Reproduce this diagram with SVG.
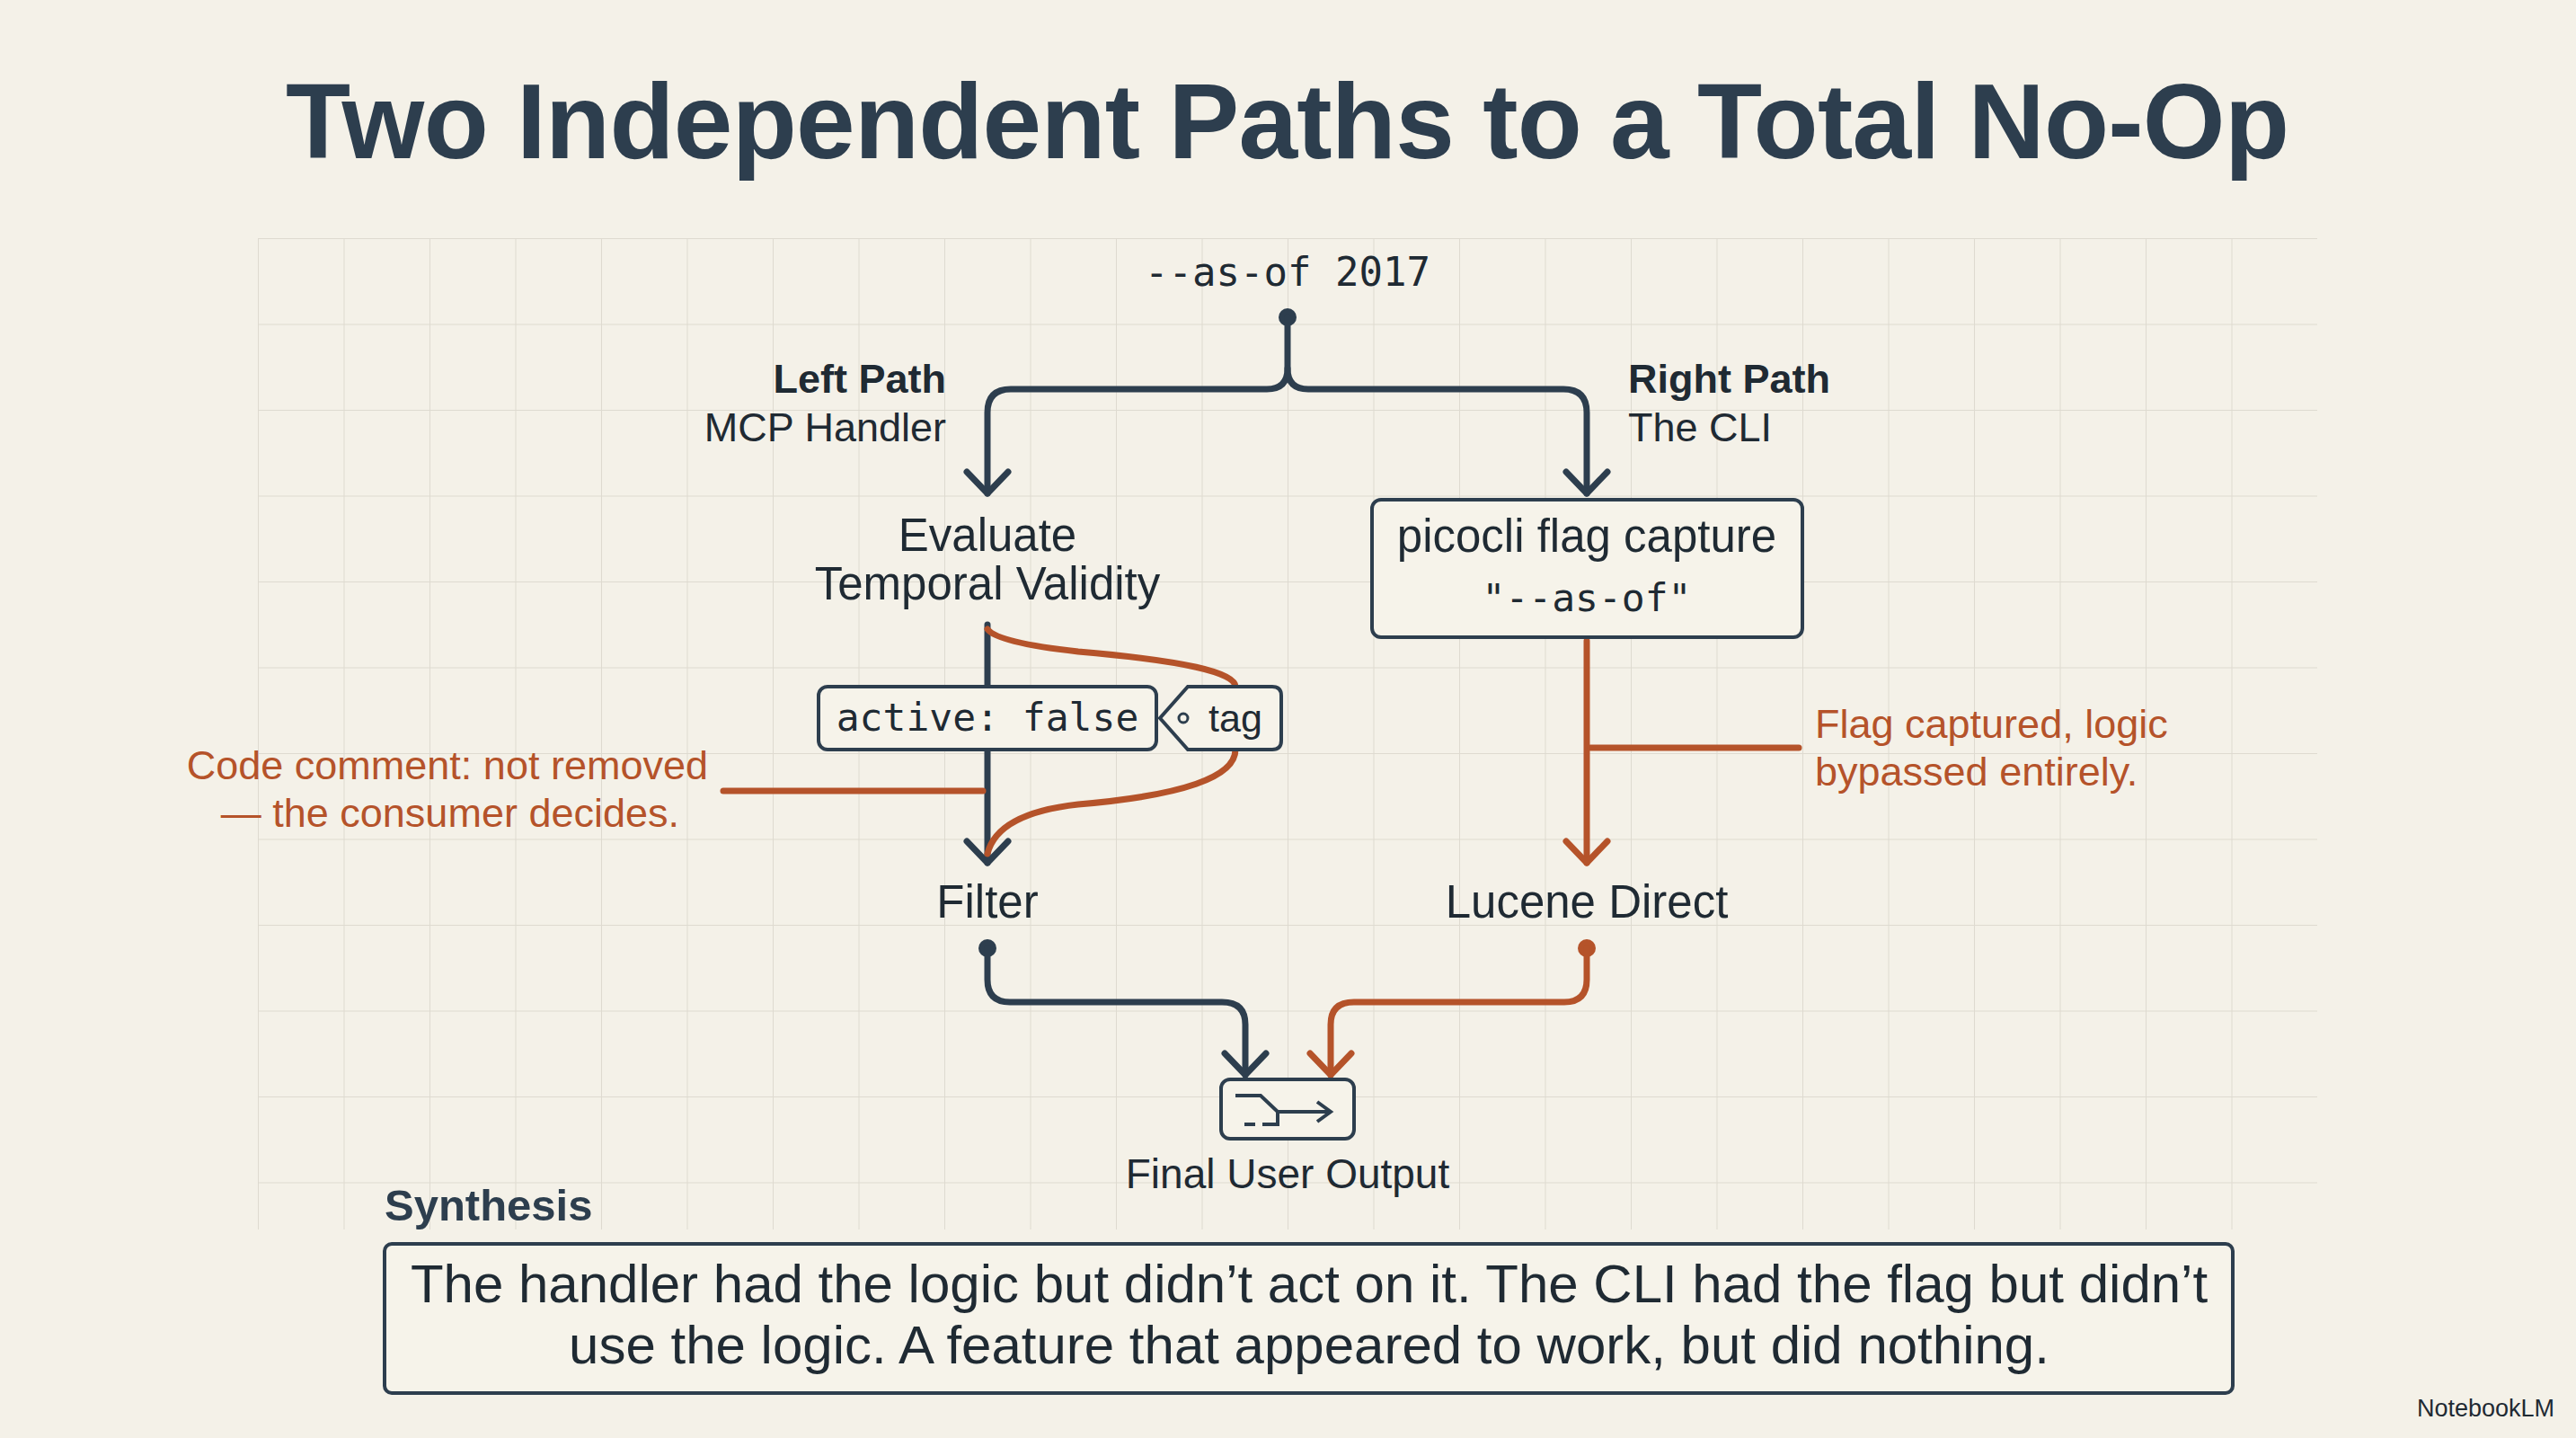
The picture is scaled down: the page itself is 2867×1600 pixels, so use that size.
<svg xmlns="http://www.w3.org/2000/svg" width="2867" height="1600" viewBox="0 0 2867 1600">
<defs>
<style>
.sans{font-family:"Liberation Sans","Inter",sans-serif;fill:#1f2a33}
.mono{font-family:"DejaVu Sans Mono","Liberation Mono",monospace;fill:#1f2a33}
.org{fill:#b5532a}
.dk{stroke:#2d3e4e;stroke-width:7;fill:none;stroke-linecap:round;stroke-linejoin:round}
.or{stroke:#b5532a;stroke-width:7;fill:none;stroke-linecap:round;stroke-linejoin:round}
.box{fill:#f6f3ea;stroke:#2d3e4e;stroke-width:4}
.grid{stroke:#dedad0;stroke-width:2}
</style>
<pattern id="g" x="287" y="265" width="95.5" height="95.5" patternUnits="userSpaceOnUse">
<path d="M0 0V95.5M0 0H95.5" class="grid"/>
</pattern>
</defs>
<rect width="2867" height="1600" fill="#f4f1e8"/>
<rect x="287" y="265" width="2292" height="1103" fill="url(#g)"/>
<text x="1433" y="176" text-anchor="middle" class="sans" font-size="118" font-weight="bold" style="fill:#2d3e4e" textLength="2230">Two Independent Paths to a Total No-Op</text>

<g id="connectors">
<circle cx="1433" cy="353" r="10" fill="#2d3e4e"/>
<path class="dk" d="M1433 353V410Q1433 433 1410 433H1125Q1099 433 1099 459V549"/>
<path class="dk" d="M1433 410Q1433 433 1456 433H1740Q1766 433 1766 459V549"/>
<path class="dk" d="M1076 525L1099 549L1122 525"/>
<path class="dk" d="M1743 525L1766 549L1789 525"/>
<path class="dk" d="M1099 695V960"/>
<path class="dk" d="M1076 936L1099 960L1122 936"/>
<path class="or" d="M1099 700Q1110 715 1200 725Q1375 740 1375 764"/>
<path class="or" d="M1375 834Q1375 880 1200 895Q1110 905 1099 950"/>
<path class="or" d="M805 880H1094" stroke-width="4"/>
<path class="or" d="M1766 713V960"/>
<path class="or" d="M1743 936L1766 960L1789 936"/>
<path class="or" d="M1770 832H2002" stroke-width="4"/>
<circle cx="1099" cy="1055" r="10" fill="#2d3e4e"/>
<path class="dk" d="M1099 1055V1090Q1099 1115 1124 1115H1360Q1386 1115 1386 1140V1196"/>
<path class="dk" d="M1363 1172L1386 1196L1409 1172"/>
<circle cx="1766" cy="1055" r="10" fill="#b5532a"/>
<path class="or" d="M1766 1055V1090Q1766 1115 1741 1115H1507Q1481 1115 1481 1140V1196"/>
<path class="or" d="M1458 1172L1481 1196L1504 1172"/>
</g>

<g id="asof"><text x="1433" y="318" text-anchor="middle" class="mono" font-size="44">--as-of 2017</text></g>
<g id="leftlabel">
<text x="1053" y="437" text-anchor="end" class="sans" font-size="45" font-weight="bold">Left Path</text>
<text x="1053" y="491" text-anchor="end" class="sans" font-size="45">MCP Handler</text>
</g>
<g id="rightlabel">
<text x="1812" y="437" class="sans" font-size="45" font-weight="bold">Right Path</text>
<text x="1812" y="491" class="sans" font-size="45">The CLI</text>
</g>
<g id="evaluate">
<text x="1099" y="613" text-anchor="middle" class="sans" font-size="51">Evaluate</text>
<text x="1099" y="667" text-anchor="middle" class="sans" font-size="51">Temporal Validity</text>
</g>
<g id="picocli">
<rect x="1527" y="556" width="479" height="153" rx="10" class="box"/>
<text x="1766" y="614" text-anchor="middle" class="sans" font-size="51">picocli flag capture</text>
<text x="1766" y="680" text-anchor="middle" class="mono" font-size="43">"--as-of"</text>
</g>
<g id="active">
<rect x="911" y="764" width="376" height="70" rx="10" class="box"/>
<text x="1099" y="813" text-anchor="middle" class="mono" font-size="43">active: false</text>
</g>
<g id="tag">
<path d="M1322 764H1416Q1426 764 1426 774V824Q1426 834 1416 834H1322L1291 799Z" class="box"/>
<circle cx="1317" cy="799" r="5" fill="none" stroke="#2d3e4e" stroke-width="3"/>
<text x="1375" y="814" text-anchor="middle" class="sans" font-size="43">tag</text>
</g>
<g id="comment">
<text x="788" y="867" text-anchor="end" class="sans org" font-size="45" style="fill:#b5532a">Code comment: not removed</text>
<text x="756" y="920" text-anchor="end" class="sans org" font-size="45" style="fill:#b5532a">— the consumer decides.</text>
</g>
<g id="flagnote">
<text x="2020" y="821" class="sans org" font-size="45" style="fill:#b5532a">Flag captured, logic</text>
<text x="2020" y="874" class="sans org" font-size="45" style="fill:#b5532a">bypassed entirely.</text>
</g>
<g id="filter"><text x="1099" y="1021" text-anchor="middle" class="sans" font-size="51">Filter</text></g>
<g id="lucene"><text x="1766" y="1021" text-anchor="middle" class="sans" font-size="51">Lucene Direct</text></g>
<g id="output">
<rect x="1359" y="1201" width="148" height="66" rx="10" class="box"/>
<path d="M1375 1219H1403L1422 1237H1481M1466 1226L1481 1237L1466 1248M1422 1237V1251H1405M1397 1251H1385" fill="none" stroke="#2d3e4e" stroke-width="4"/>
<text x="1433" y="1322" text-anchor="middle" class="sans" font-size="46">Final User Output</text>
</g>
<g id="synthesis">
<text x="428" y="1358" class="sans" font-size="49" font-weight="bold" style="fill:#2d3e4e">Synthesis</text>
<rect x="428" y="1384" width="2057" height="166" rx="8" class="box"/>
<text x="1457" y="1449" text-anchor="middle" class="sans" font-size="60">The handler had the logic but didn’t act on it. The CLI had the flag but didn’t</text>
<text x="1457" y="1517" text-anchor="middle" class="sans" font-size="60">use the logic. A feature that appeared to work, but did nothing.</text>
</g>
<text x="2843" y="1576" text-anchor="end" class="sans" font-size="27">NotebookLM</text>
</svg>
